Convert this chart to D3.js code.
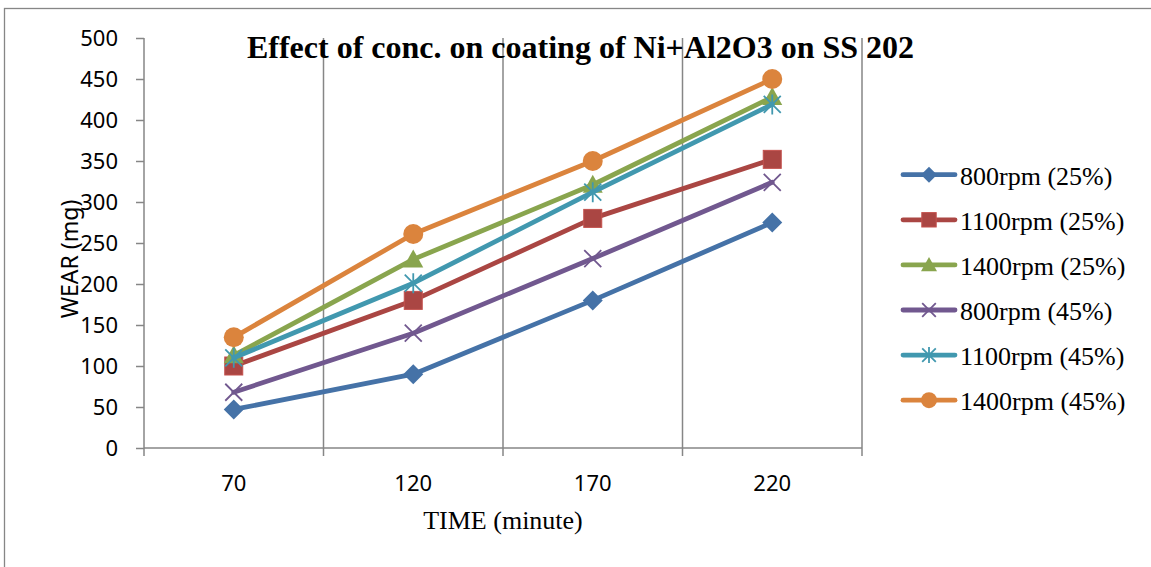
<!DOCTYPE html>
<html>
<head>
<meta charset="utf-8">
<script src="https://cdn.jsdelivr.net/npm/d3@7"></script>
<style>
  html, body { margin: 0; padding: 0; background: #fff; }
  svg { display: block; }
</style>
</head>
<body>
<svg id="chart" width="1151" height="567"></svg>
<script>
// Wear test data: wear (mg) after each run time, per speed / concentration
const times = [70, 120, 170, 220];
const yTicks = [0, 50, 100, 150, 200, 250, 300, 350, 400, 450, 500];
const seriesNames = ["800rpm (25%)", "1100rpm (25%)", "1400rpm (25%)", "800rpm (45%)", "1100rpm (45%)", "1400rpm (45%)"];
const wear800_25 = [47, 90, 180, 275];
const wear1100_25 = [100, 180, 280, 352];
const wear1400_25 = [113, 230, 321, 428];
const wear800_45 = [68, 140, 231, 324];
const wear1100_45 = [110, 201, 312, 419];
const wear1400_45 = [135, 261, 350, 450];
const colors = ["#4572A7", "#AA4643", "#89A54E", "#71588F", "#4198AF", "#DB843D"];
const markers = ["diamond", "square", "triangle", "x", "asterisk", "circle"];

const series = [wear800_25, wear1100_25, wear1400_25, wear800_45, wear1100_45, wear1400_45]
  .map((vals, i) => ({ name: seriesNames[i], values: vals, color: colors[i], marker: markers[i] }));

const svg = d3.select("#chart");
const gridColor = "#868686";

// chart frame
svg.append("rect")
  .attr("x", 4.5).attr("y", 8.5).attr("width", 1170).attr("height", 600)
  .attr("fill", "none").attr("stroke", gridColor).attr("stroke-width", 1.3);

const plot = { left: 144, right: 862, top: 38, bottom: 448 };

const x = d3.scaleBand().domain(times).range([plot.left, plot.right]).padding(0);
const y = d3.scaleLinear().domain([0, 500]).range([plot.bottom, plot.top]);

// vertical gridlines at category boundaries
const bounds = times.slice(1).map(t => x(t)).concat([x.range()[1]]);
svg.append("g").selectAll("line").data(bounds).join("line")
  .attr("x1", d => d).attr("x2", d => d)
  .attr("y1", plot.top).attr("y2", plot.bottom)
  .attr("stroke", gridColor).attr("stroke-width", 1.5);

// y axis
const yAxis = svg.append("g").attr("transform", `translate(${plot.left},0)`)
  .call(d3.axisLeft(y).tickValues(yTicks).tickSize(8).tickPadding(18));
yAxis.select(".domain").attr("stroke", gridColor).attr("stroke-width", 1.5).attr("d", `M0,${plot.top}V${plot.bottom}`);
yAxis.selectAll(".tick line").attr("stroke", gridColor).attr("stroke-width", 1.5);
yAxis.selectAll(".tick text")
  .attr("font-family", "'Noto Sans', sans-serif").attr("font-size", 22).attr("fill", "#000")
  .attr("dy", "0.36em");

// x axis with ticks at category boundaries
const xAxisG = svg.append("g").attr("transform", `translate(0,${plot.bottom})`);
xAxisG.append("line").attr("x1", plot.left).attr("x2", plot.right)
  .attr("stroke", gridColor).attr("stroke-width", 1.5);
xAxisG.selectAll("line.tk").data([plot.left].concat(bounds)).join("line").attr("class", "tk")
  .attr("x1", d => d).attr("x2", d => d).attr("y1", 0).attr("y2", 8)
  .attr("stroke", gridColor).attr("stroke-width", 1.5);
xAxisG.selectAll("text").data(times).join("text")
  .attr("x", d => x(d) + x.bandwidth() / 2).attr("y", 43)
  .attr("text-anchor", "middle")
  .attr("font-family", "'Noto Sans', sans-serif").attr("font-size", 22).attr("fill", "#000")
  .text(d => d);

// axis titles
svg.append("text")
  .attr("transform", "translate(78,259) rotate(-90)")
  .attr("text-anchor", "middle")
  .attr("font-family", "'Noto Sans', sans-serif").attr("font-size", 23).attr("fill", "#000")
  .text("WEAR (mg)");
svg.append("text")
  .attr("x", 503).attr("y", 529).attr("text-anchor", "middle")
  .attr("font-family", "'Liberation Serif', 'Times New Roman', serif").attr("font-size", 26).attr("fill", "#000")
  .text("TIME (minute)");

// marker drawing
function drawMarker(g, type, color, s) {
  const h = s / 2;
  if (type === "diamond") {
    g.append("path").attr("d", `M0,${-h}L${h},0L0,${h}L${-h},0Z`).attr("fill", color);
  } else if (type === "square") {
    g.append("rect").attr("x", -h * 0.9).attr("y", -h * 0.9).attr("width", s * 0.9).attr("height", s * 0.9)
      .attr("fill", color).attr("stroke", d3.color(color).brighter(0.4)).attr("stroke-width", 1);
  } else if (type === "triangle") {
    g.append("path").attr("d", `M0,${-h}L${h},${h * 0.8}L${-h},${h * 0.8}Z`).attr("fill", color);
  } else if (type === "circle") {
    g.append("circle").attr("r", h).attr("fill", color);
  } else if (type === "x") {
    const a = h * 0.85;
    g.append("path").attr("d", `M${-a},${-a}L${a},${a}M${-a},${a}L${a},${-a}`)
      .attr("stroke", color).attr("stroke-width", 1.8).attr("fill", "none");
  } else if (type === "asterisk") {
    const a = h * 0.85;
    g.append("path").attr("d", `M${-a},${-a}L${a},${a}M${-a},${a}L${a},${-a}M0,${-h}L0,${h}`)
      .attr("stroke", color).attr("stroke-width", 1.8).attr("fill", "none");
  }
}

const line = d3.line().x((d, i) => x(times[i]) + x.bandwidth() / 2).y(d => y(d));

series.forEach(s => {
  const g = svg.append("g");
  g.append("path").attr("d", line(s.values))
    .attr("fill", "none").attr("stroke", s.color).attr("stroke-width", 4.8)
    .attr("stroke-linejoin", "round").attr("stroke-linecap", "round");
  s.values.forEach((v, i) => {
    const mg = g.append("g").attr("transform", `translate(${x(times[i]) + x.bandwidth() / 2},${y(v)})`);
    drawMarker(mg, s.marker, s.color, 20);
  });
});

// title
svg.append("text")
  .attr("x", 580.5).attr("y", 58).attr("text-anchor", "middle")
  .attr("font-family", "'Liberation Serif', 'Times New Roman', serif").attr("font-size", 32)
  .attr("font-weight", "bold").attr("fill", "#000")
  .text("Effect of conc. on coating of Ni+Al2O3 on SS 202");

// legend
const legend = svg.append("g");
series.forEach((s, i) => {
  const cy = 174.7 + i * 45.1;
  const g = legend.append("g").attr("transform", `translate(0,${cy})`);
  g.append("line").attr("x1", 903).attr("x2", 955).attr("y1", 0).attr("y2", 0)
    .attr("stroke", s.color).attr("stroke-width", 4.8).attr("stroke-linecap", "round");
  const mg = g.append("g").attr("transform", "translate(929,0)");
  drawMarker(mg, s.marker, s.color, 16);
  g.append("text").attr("x", 960).attr("y", 10)
    .attr("font-family", "'Liberation Serif', 'Times New Roman', serif").attr("font-size", 26).attr("fill", "#000")
    .text(s.name);
});
</script>
</body>
</html>
